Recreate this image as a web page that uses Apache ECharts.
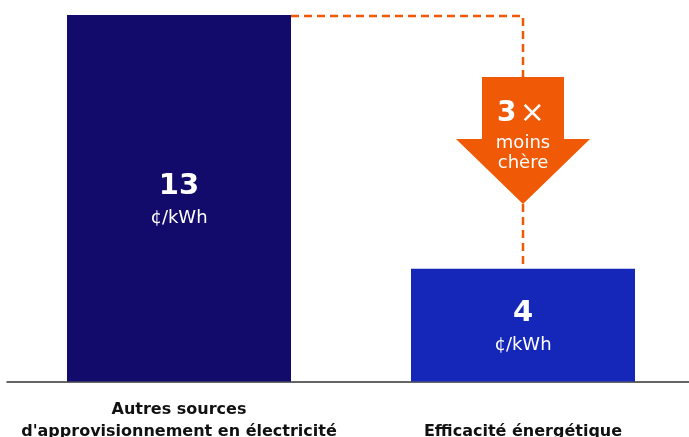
<!DOCTYPE html>
<html><head><meta charset="utf-8">
<script src="https://cdn.jsdelivr.net/npm/echarts@6/dist/echarts.min.js"></script>
<style>html,body{margin:0;padding:0;background:#fff;overflow:hidden}#c{width:689px;height:437px}</style>
</head><body><div id="c"></div>
<script>
var categories = ["Autres sources\nd'approvisionnement en électricité", "\nEfficacité énergétique"];
var values = [13, 4];
var unitLabel = "¢/kWh";
var multiplier = "3";
var arrowLines = ["moins", "chère"];

var FONT = "'DejaVu Sans'";
var chart = echarts.init(document.getElementById('c'), null, {renderer:'canvas'});
var BW = 224;
var option = {
  animation:false,
  grid:{left:7, width:688, top:15, bottom:55.5, outerBoundsMode:'none', containLabel:false},
  xAxis:{type:'category', data:categories,
    axisLine:{lineStyle:{color:'#333', width:1.5}},
    axisTick:{show:false},
    axisLabel:{margin:17, color:'#111', fontFamily:FONT, fontWeight:'bold', fontSize:16, lineHeight:22, interval:0}},
  yAxis:{type:'value', min:0, max:13, show:false, splitLine:{show:false}},
  series:[{type:'bar', barWidth:BW,
    data:[{value:values[0], itemStyle:{color:'#120b6c'}},{value:values[1], itemStyle:{color:'#1427b8'}}],
    label:{show:true, position:'inside', offset:[0,2], formatter:function(p){return '{v|'+p.value+'}\n{u|'+unitLabel+'}';},
      rich:{v:{fontFamily:FONT, fontWeight:'bold', fontSize:29, color:'#fff', lineHeight:36},
            u:{fontFamily:FONT, fontSize:18, color:'#fff', lineHeight:28}}}
  }]
};
chart.setOption(option);

var p1 = chart.convertToPixel({seriesIndex:0}, [0, values[0]]);
var p2 = chart.convertToPixel({seriesIndex:0}, [1, values[1]]);
var orange = '#f05a06';
var ax = p2[0];
var shaftTop = 77, headY = 139, tipY = 204, shaftHalf = 41, headHalf = 67;
var dash = {stroke:orange, lineWidth:2.5, lineDash:[8,5], fill:null};
chart.setOption({graphic:[
  {type:'polyline', shape:{points:[[p1[0]+BW/2, p1[1]+1],[ax, p1[1]+1],[ax, shaftTop]]}, style:dash, z:10},
  {type:'line', shape:{x1:ax, y1:tipY, x2:ax, y2:p2[1]}, style:dash, z:10},
  {type:'polygon', shape:{points:[[ax-shaftHalf,shaftTop],[ax+shaftHalf,shaftTop],[ax+shaftHalf,headY],[ax+headHalf,headY],[ax,tipY],[ax-headHalf,headY],[ax-shaftHalf,headY]]}, style:{fill:orange}, z:11},
  {type:'text', x:ax-2, y:114, style:{text:'{b|'+multiplier+'} {x|×}', textAlign:'center', textVerticalAlign:'middle',
     rich:{b:{fill:'#fff', fontFamily:FONT, fontWeight:'bold', fontSize:28}, x:{fill:'#fff', fontFamily:FONT, fontSize:30}}}, z:12},
  {type:'text', x:ax, y:143, style:{text:arrowLines[0], fill:'#fff', font:'18px '+FONT, textAlign:'center', textVerticalAlign:'middle'}, z:12},
  {type:'text', x:ax, y:163, style:{text:arrowLines[1], fill:'#fff', font:'18px '+FONT, textAlign:'center', textVerticalAlign:'middle'}, z:12}
]});
</script></body></html>
